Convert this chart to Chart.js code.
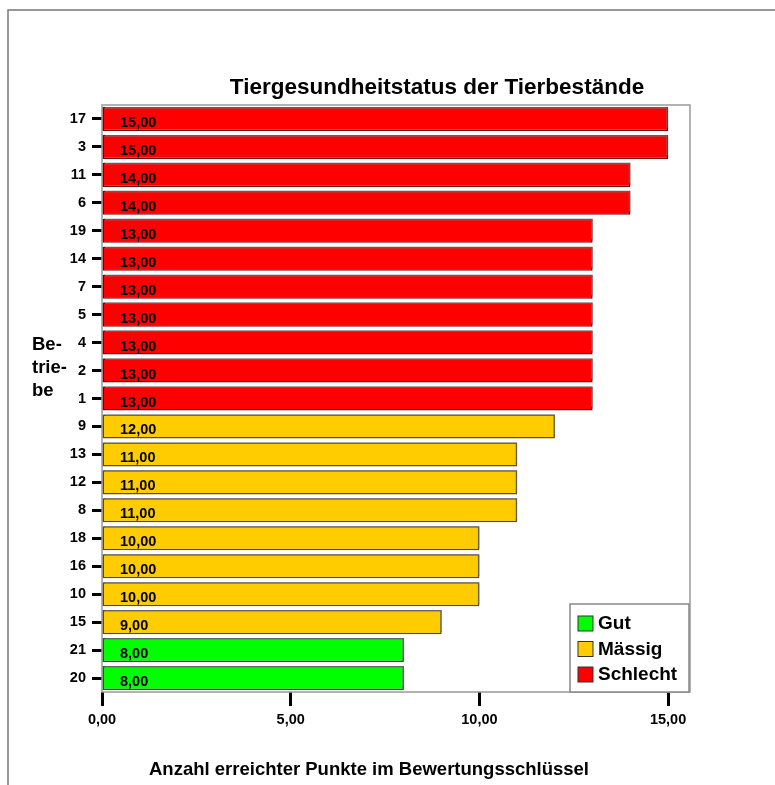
<!DOCTYPE html>
<html>
<head>
<meta charset="utf-8">
<script src="https://cdn.jsdelivr.net/npm/chart.js@4/dist/chart.umd.min.js"></script>
<style>
  html, body { margin: 0; padding: 0; background: #fff; }
  #wrap { width: 775px; height: 785px; position: relative; }
</style>
</head>
<body>
<div id="wrap"><canvas id="myChart" width="775" height="785"></canvas></div>
<script>
const betriebe = ['17', '3', '11', '6', '19', '14', '7', '5', '4', '2', '1',
  '9', '13', '12', '8', '18', '16', '10', '15', '21', '20'];
const punkte = [15, 15, 14, 14, 13, 13, 13, 13, 13, 13, 13,
  12, 11, 11, 11, 10, 10, 10, 9, 8, 8];
const status = ['Schlecht', 'Schlecht', 'Schlecht', 'Schlecht', 'Schlecht', 'Schlecht',
  'Schlecht', 'Schlecht', 'Schlecht', 'Schlecht', 'Schlecht',
  'Mässig', 'Mässig', 'Mässig', 'Mässig', 'Mässig', 'Mässig', 'Mässig', 'Mässig',
  'Gut', 'Gut'];
const legendLabels = ['Gut', 'Mässig', 'Schlecht'];
const xTicks = [0, 5, 10, 15];

const fill = { 'Gut': '#00ff00', 'Mässig': '#ffcc00', 'Schlecht': '#ff0000' };
const edge = { 'Gut': '#1f5f1f', 'Mässig': '#5c4a10', 'Schlecht': '#7a0000' };
const fmt = v => v.toFixed(2).replace('.', ',');
const FONT = 'Arial, "Liberation Sans", sans-serif';

// frame, plot border, title, axis labels, legend box
const decor = {
  id: 'decor',
  beforeDraw(chart) {
    const ctx = chart.ctx;
    ctx.save();
    ctx.strokeStyle = '#777';
    ctx.lineWidth = 1.5;
    ctx.beginPath();
    ctx.moveTo(8, 785);
    ctx.lineTo(8, 10);
    ctx.lineTo(775, 10);
    ctx.stroke();
    ctx.restore();
  },
  beforeDatasetsDraw(chart) {
    const a = chart.chartArea, ctx = chart.ctx;
    ctx.save();
    ctx.strokeStyle = '#999';
    ctx.lineWidth = 1.5;
    ctx.strokeRect(a.left, a.top, a.right - a.left, a.bottom - a.top);
    ctx.restore();
    ctx.save();
    ctx.shadowColor = 'rgba(110,110,110,0.8)';
    ctx.shadowOffsetX = 1;
    ctx.shadowOffsetY = -2;
    ctx.shadowBlur = 0;
  },
  afterDatasetsDraw(chart) {
    const ctx = chart.ctx;
    ctx.restore();
    // value labels inside bars
    const meta = chart.getDatasetMeta(0);
    ctx.save();
    ctx.fillStyle = '#000';
    ctx.font = 'bold 14.5px ' + FONT;
    ctx.textAlign = 'left';
    ctx.textBaseline = 'middle';
    meta.data.forEach((bar, i) => {
      ctx.fillText(fmt(punkte[i]), chart.chartArea.left + 18, bar.y + 4);
    });
    ctx.restore();
  },
  afterDraw(chart) {
    const ctx = chart.ctx;
    ctx.save();
    ctx.fillStyle = '#000';
    ctx.textAlign = 'center';
    ctx.textBaseline = 'middle';
    ctx.font = 'bold 22.5px ' + FONT;
    ctx.fillText('Tiergesundheitstatus der Tierbestände', 437, 88);
    ctx.font = 'bold 18.5px ' + FONT;
    ctx.fillText('Anzahl erreichter Punkte im Bewertungsschlüssel', 369, 770);
    ctx.textAlign = 'left';
    ctx.font = 'bold 18.5px ' + FONT;
    ['Be-', 'trie-', 'be'].forEach((t, i) => ctx.fillText(t, 32, 345 + i * 23));

    // legend
    const lx = 570, ly = 604, lw = 119, lh = 88;
    ctx.fillStyle = '#fff';
    ctx.fillRect(lx, ly, lw, lh);
    ctx.strokeStyle = '#888';
    ctx.lineWidth = 1.5;
    ctx.strokeRect(lx, ly, lw, lh);
    ctx.font = 'bold 19px ' + FONT;
    legendLabels.forEach((lab, i) => {
      const cy = 623 + i * 25.5;
      ctx.fillStyle = fill[lab];
      ctx.fillRect(578, cy - 7, 15, 15);
      ctx.strokeStyle = '#333';
      ctx.lineWidth = 1;
      ctx.strokeRect(578, cy - 7, 15, 15);
      ctx.fillStyle = '#000';
      ctx.fillText(lab, 598, cy + 1);
    });
    ctx.restore();
  }
};

new Chart(document.getElementById('myChart'), {
  type: 'bar',
  data: {
    labels: betriebe,
    datasets: [{
      data: punkte,
      backgroundColor: status.map(s => fill[s]),
      borderColor: status.map(s => edge[s]),
      borderWidth: 1.5,
      borderSkipped: false,
      barPercentage: 0.86,
      categoryPercentage: 1
    }]
  },
  options: {
    indexAxis: 'y',
    responsive: false,
    animation: false,
    layout: { padding: { left: 0, top: 105, right: 85, bottom: 0 } },
    plugins: { legend: { display: false }, title: { display: false }, tooltip: { enabled: false } },
    scales: {
      x: {
        min: 0,
        max: 15.58,
        afterFit: s => { s.height = 93; },
        afterBuildTicks: s => { s.ticks = xTicks.map(v => ({ value: v })); },
        border: { display: false },
        grid: { drawOnChartArea: false, drawTicks: true, tickLength: 14, tickWidth: 3, tickColor: '#000' },
        ticks: {
          padding: 5,
          color: '#000',
          font: { family: FONT, size: 14.5, weight: 'bold' },
          callback: v => fmt(v)
        }
      },
      y: {
        afterFit: s => { s.width = 102; },
        border: { display: false },
        grid: { offset: false, drawOnChartArea: false, drawTicks: true, tickLength: 10, tickWidth: 3, tickColor: '#000' },
        ticks: {
          padding: 6,
          color: '#000',
          font: { family: FONT, size: 14.5, weight: 'bold' }
        }
      }
    }
  },
  plugins: [decor]
});
</script>
</body>
</html>
